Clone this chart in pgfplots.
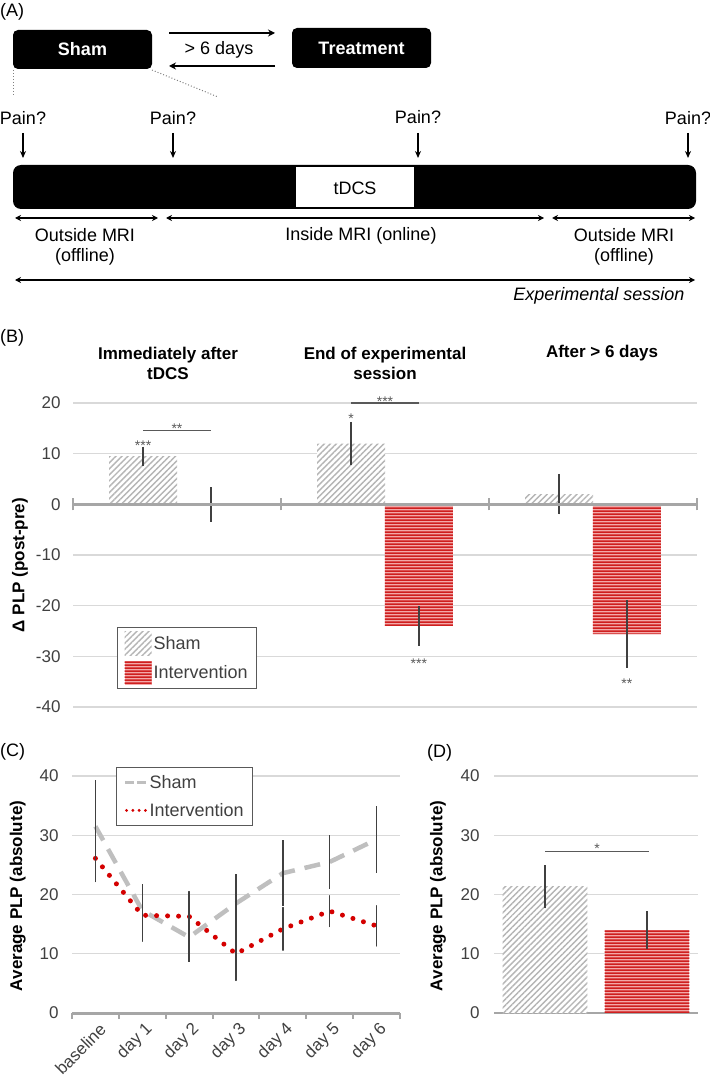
\documentclass[border=0pt]{standalone}
\usepackage{fontspec}
\setmainfont{Liberation Sans}
\usepackage{pgfplots}
\usepackage{pgfplotstable}
\pgfplotsset{compat=1.18}
\usetikzlibrary{patterns,patterns.meta,arrows.meta}
\definecolor{gridgray}{HTML}{D9D9D9}
\definecolor{axgray}{HTML}{A6A6A6}
\definecolor{errgray}{HTML}{404040}
\definecolor{txtgray}{HTML}{404040}
\definecolor{shamgray}{HTML}{BFBFBF}
\definecolor{hatchgray}{HTML}{B5B5B5}
\definecolor{intred}{HTML}{CF1F1F}
\definecolor{intpink}{HTML}{F3A9A9}
\definecolor{dotred}{HTML}{D40000}
\definecolor{sigray}{HTML}{595959}
\newcommand{\fs}[1]{\fontsize{#1}{#1}\selectfont}

\pgfdeclarepatternformonly{hstripes}{\pgfqpoint{0pt}{0pt}}{\pgfqpoint{40pt}{3.2pt}}{\pgfqpoint{40pt}{3.2pt}}{%
  \pgfpathrectangle{\pgfqpoint{-1pt}{0pt}}{\pgfqpoint{42pt}{2pt}}\pgfusepath{fill}}

\pgfplotstableread{
x y e
0.337 9.5 1.9
1.337 12.0 4.3
2.337 2.0 4.0
}\Bsham
\pgfplotstableread{
x y e
0.663 0 3.4
1.663 -24.0 3.9
2.663 -25.6 6.7
}\Bint
\pgfplotstableread{
x y e
0.5 31.5 7.8
1.5 17.3 4.5
2.5 12.8 4.2
3.5 18.5 5.0
4.5 23.6 5.6
5.5 25.5 4.5
6.5 29.3 5.7
}\Csham
\pgfplotstableread{
x y e
0.5 26.1 3.9
1.5 16.5 4.4
2.5 16.3 4.2
3.5 10.0 4.5
4.5 14.2 3.6
5.5 17.2 2.6
6.5 14.7 3.4
}\Cint
\pgfplotstableread{
x y e
0.5 21.3 3.65
}\Dsham
\pgfplotstableread{
x y e
1.5 14.0 3.2
}\Dint

\tikzset{
 shambar/.style={fill=white, draw=none, postaction={pattern={Lines[angle=45,distance=4.2pt,line width=1.4pt]}, pattern color=hatchgray}},
 intbar/.style={fill=intpink, draw=none, postaction={pattern=hstripes, pattern color=intred}},
 sig/.style={anchor=base, text=sigray, font=\fs{14}, inner sep=0pt},
}
\pgfplotsset{
 panel/.style={
   scale only axis, anchor=south west,
   axis lines=left,
   y axis line style={draw=none},
   y tick style={draw=none},
   ymajorgrids,
   grid style={gridgray, line width=1.3pt},
   yticklabel style={font=\fs{17}, text=txtgray},
   /pgf/number format/assume math mode=true,
   clip=false,
 },
 errs/.style={error bars/.cd, y dir=both, y explicit, error mark=none,
   error bar style={errgray, line width=1.3pt, solid}},
}

\begin{document}
\begin{tikzpicture}
\useasboundingbox (0,0) rectangle (709pt,-1083pt);
% ---------------- Panel A ----------------
\begin{scope}[x=1pt,y=-1pt, font=\fs{18}]
\node[anchor=west, inner sep=0pt] at (0,12) {(A)};
\fill[rounded corners=5pt] (13,30) rectangle (152,69);
\node[text=white, font=\bfseries\fs{18}] at (82.5,49.5) {Sham};
\fill[rounded corners=5pt] (292,28) rectangle (431,68);
\node[text=white, font=\bfseries\fs{18}] at (361.5,48) {Treatment};
\draw[-{Stealth[length=7pt,width=7pt]}, line width=1.2pt] (169,33) -- (275,33);
\draw[-{Stealth[length=7pt,width=7pt]}, line width=1.2pt] (275,66) -- (169,66);
\node at (219,50) {> 6 days};
\draw[gray, dotted, line width=1pt] (13,70) -- (13,96);
\draw[gray, dotted, line width=1pt] (152,70) -- (218,97);
\foreach \x/\y in {23/118,173/118,418/117,688/118}{
  \node at (\x,\y) {Pain?};
  \draw[-{Stealth[length=7pt,width=6pt]}, line width=1.2pt] (\x,133) -- (\x,158);
}
\fill[rounded corners=8pt] (13,165) rectangle (696,209);
\fill[white] (296,167) rectangle (414,207);
\node at (355,188) {tDCS};
\draw[{Stealth[length=6pt,width=6pt]}-{Stealth[length=6pt,width=6pt]}, line width=1.2pt] (15,218) -- (158,218);
\draw[{Stealth[length=6pt,width=6pt]}-{Stealth[length=6pt,width=6pt]}, line width=1.2pt] (166,218) -- (544,218);
\draw[{Stealth[length=6pt,width=6pt]}-{Stealth[length=6pt,width=6pt]}, line width=1.2pt] (552,218) -- (695,218);
\node[align=center, font=\fontsize{18}{20}\selectfont] at (85,247) {Outside MRI\\(offline)};
\node at (361,236) {Inside MRI (online)};
\node[align=center, font=\fontsize{18}{20}\selectfont] at (624,247) {Outside MRI\\(offline)};
\draw[{Stealth[length=6pt,width=6pt]}-{Stealth[length=6pt,width=6pt]}, line width=1.2pt] (15,280) -- (695,280);
\node[anchor=east, font=\itshape\fs{18}] at (688,296) {Experimental session};
% panel letters and titles B
\node[anchor=west, inner sep=0pt] at (0,338) {(B)};
\node[align=center, font=\bfseries\fontsize{17}{20}\selectfont] at (168,363) {Immediately after\\tDCS};
\node[align=center, font=\bfseries\fontsize{17}{20}\selectfont] at (385,363) {End of experimental\\session};
\node[font=\bfseries\fs{17}] at (602,353) {After > 6 days};
\node[anchor=west, inner sep=0pt] at (0,752) {(C)};
\node[anchor=west, inner sep=0pt] at (427,753) {(D)};
\end{scope}

% ---------------- Panel B ----------------
\begin{axis}[panel,
  at={(73pt,-707pt)}, width=624pt, height=304pt,
  xmin=0, xmax=3, ymin=-40, ymax=20,
  ytick={-40,-30,...,20},
  x axis line style={draw=none},
  xtick=\empty, major tick length=0pt,
  yticklabel style={xshift=-9pt},
  every axis y label/.style={at={(axis description cs:-0.085,0.467)}, rotate=90, anchor=center, font=\bfseries\fs{17}},
  ylabel={Δ PLP (post-pre)},
  legend style={at={(0.0705,0.263)}, anchor=north west, draw=sigray, line width=1.2pt,
    font=\fs{18}, nodes={text=txtgray}, row sep=5pt, inner xsep=7pt, inner ysep=4pt},
  legend cell align=left,
]
\addplot[ybar, bar width=0.327, bar shift=0pt, shambar, forget plot, errs]
  table[x=x, y=y, y error=e] {\Bsham};
\addplot[ybar, bar width=0.327, bar shift=0pt, intbar, forget plot, errs]
  table[x=x, y=y, y error=e] {\Bint};
\addlegendimage{legend image code/.code={%
  \path[draw=none, fill=white] (0pt,-12pt) rectangle (27pt,12pt);
  \path[draw=none, pattern={Lines[angle=45,distance=4.2pt,line width=1.4pt]}, pattern color=hatchgray] (0pt,-12pt) rectangle (27pt,12pt);}}
\addlegendentry{Sham}
\addlegendimage{legend image code/.code={%
  \path[draw=none, fill=intpink] (0pt,-12pt) rectangle (27pt,12pt);
  \path[draw=none, pattern=hstripes, pattern color=intred] (0pt,-12pt) rectangle (27pt,12pt);}}
\addlegendentry{Intervention}
\draw[axgray, line width=3pt] (axis cs:0,0) -- (axis cs:3,0);
\draw[axgray, line width=2pt] ([yshift=-6pt]axis cs:0,0) -- ([yshift=6pt]axis cs:0,0);
\draw[axgray, line width=2pt] ([yshift=-6pt]axis cs:1,0) -- ([yshift=6pt]axis cs:1,0);
\draw[axgray, line width=2pt] ([yshift=-6pt]axis cs:2,0) -- ([yshift=6pt]axis cs:2,0);
\draw[axgray, line width=2pt] ([yshift=-6pt]axis cs:3,0) -- ([yshift=6pt]axis cs:3,0);
\draw[sigray, line width=1.3pt] (axis cs:0.337,14.6) -- (axis cs:0.663,14.6);
\node[sig] at (axis cs:0.5,13.9) {**};
\node[sig] at (axis cs:0.337,10.6) {***};
\draw[sigray, line width=1.3pt] (axis cs:1.337,20) -- (axis cs:1.663,20);
\node[sig] at (axis cs:1.5,19.4) {***};
\node[sig] at (axis cs:1.337,16.0) {*};
\node[sig] at (axis cs:1.663,-32.4) {***};
\node[sig] at (axis cs:2.663,-36.4) {**};
\end{axis}

% ---------------- Panel C ----------------
\begin{axis}[panel,
  at={(72pt,-1013pt)}, width=328pt, height=237pt,
  xmin=0, xmax=7, ymin=0, ymax=40, ytick={0,10,...,40},
  axis x line*=bottom,
  x axis line style={draw=axgray, line width=3pt, -},
  xtick={0,...,7}, xticklabels={},
  x tick style={draw=axgray, line width=2pt},
  major tick length=6pt, tick align=outside,
  extra x ticks={0.5,1.5,...,6.5},
  extra x tick labels={baseline,day 1,day 2,day 3,day 4,day 5,day 6},
  extra x tick style={major tick length=0pt},
  xticklabel style={rotate=45, anchor=east, font=\fs{17}, text=txtgray, xshift=-1pt, yshift=-15pt},
  yticklabel style={xshift=-4pt},
  every axis y label/.style={at={(axis description cs:-0.165,0.494)}, rotate=90, anchor=center, font=\bfseries\fs{17}},
  ylabel={Average PLP (absolute)},
  legend style={at={(0.134,1.038)}, anchor=north west, draw=sigray, line width=1.2pt,
    font=\fs{18}, nodes={text=txtgray}, row sep=9pt, inner xsep=7pt, inner ysep=6pt},
  legend cell align=left,
]
\addplot[shamgray, line width=4.5pt, dash pattern=on 16pt off 10pt, forget plot, errs]
  table[x=x, y=y, y error=e] {\Csham};
\addplot[dotred, line width=5pt, line cap=round, dash pattern=on 0pt off 11pt, forget plot, errs]
  table[x=x, y=y, y error=e] {\Cint};
\addlegendimage{legend image code/.code={\draw[shamgray, line width=3pt, dash pattern=on 9pt off 3pt] (0pt,0pt) -- (21pt,0pt);}}
\addlegendentry{Sham}
\addlegendimage{legend image code/.code={\draw[dotred, line width=3.2pt, line cap=round, dash pattern=on 0pt off 6.3pt] (1.5pt,0pt) -- (21pt,0pt);}}
\addlegendentry{Intervention}
\end{axis}

% ---------------- Panel D ----------------
\begin{axis}[panel,
  at={(494pt,-1013pt)}, width=204pt, height=237pt,
  xmin=0, xmax=2, ymin=0, ymax=40, ytick={0,10,...,40},
  axis x line*=bottom,
  x axis line style={draw=axgray, line width=1.3pt, -},
  xtick=\empty, major tick length=0pt,
  yticklabel style={xshift=-11pt},
  every axis y label/.style={at={(axis description cs:-0.275,0.494)}, rotate=90, anchor=center, font=\bfseries\fs{17}},
  ylabel={Average PLP (absolute)},
]
\addplot[ybar, bar width=0.833, bar shift=0pt, shambar, errs]
  table[x=x, y=y, y error=e] {\Dsham};
\addplot[ybar, bar width=0.833, bar shift=0pt, intbar, errs]
  table[x=x, y=y, y error=e] {\Dint};
\draw[sigray, line width=1.3pt] (axis cs:0.5,27.3) -- (axis cs:1.52,27.3);
\node[sig] at (axis cs:1.01,27.0) {*};
\end{axis}
\end{tikzpicture}
\end{document}
